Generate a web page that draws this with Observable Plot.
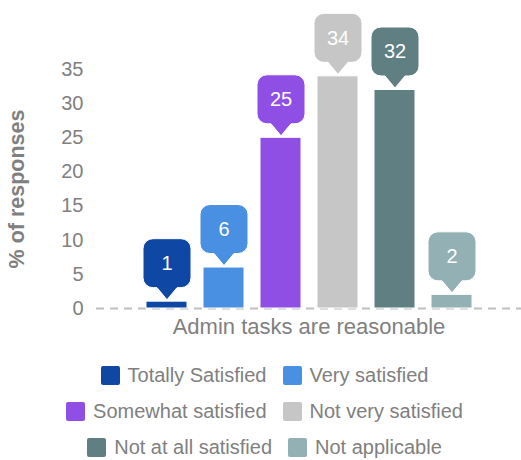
<!DOCTYPE html>
<html>
<head>
<meta charset="utf-8">
<script src="https://cdn.jsdelivr.net/npm/d3@7"></script>
<script src="https://cdn.jsdelivr.net/npm/@observablehq/plot@0.6"></script>
<style>
  html, body { margin: 0; padding: 0; background: #fff; }
  #chart { width: 521px; }
  .legend { font-family: "Liberation Sans", Arial, sans-serif; font-size: 20px; color: #808080; padding-left: 8px; margin-top: 12px; }
  .row { display: flex; justify-content: center; align-items: center; height: 36px; }
  .item { display: flex; align-items: center; margin: 0 8px; }
  .sw { width: 19px; height: 19px; border-radius: 2px; margin-right: 8px; }
</style>
</head>
<body>
<div id="chart"></div>
<script>
const categories = ["Totally Satisfied", "Very satisfied", "Somewhat satisfied", "Not very satisfied", "Not at all satisfied", "Not applicable"];
const values = [1, 6, 25, 34, 32, 2];
const colors = ["#0F47A5", "#4A90E2", "#8F4FE5", "#C6C6C6", "#607F83", "#93B0B4"];
const group = "Admin tasks are reasonable";
const yTicks = [0, 5, 10, 15, 20, 25, 30, 35];
const yLabel = "% of responses";
const legendRows = [[0, 1], [2, 3], [4, 5]];

const data = categories.map((c, i) => ({group, category: c, value: values[i]}));

// speech-bubble callout whose tip sits at the dot position
const callout = {
  draw(ctx) {
    const W = 48, H = 49, R = 10, P = 12, B = 10;
    const t = -(P + H), b = -P, l = -W / 2, r = W / 2;
    ctx.moveTo(l + R, t);
    ctx.lineTo(r - R, t);
    ctx.arcTo(r, t, r, t + R, R);
    ctx.lineTo(r, b - R);
    ctx.arcTo(r, b, r - R, b, R);
    ctx.lineTo(B, b);
    ctx.lineTo(0, 0);
    ctx.lineTo(-B, b);
    ctx.lineTo(l + R, b);
    ctx.arcTo(l, b, l, b - R, R);
    ctx.lineTo(l, t + R);
    ctx.arcTo(l, t, l + R, t, R);
    ctx.closePath();
  }
};

const chart = Plot.plot({
  width: 521,
  height: 345,
  marginLeft: 96,
  marginRight: 0,
  marginTop: 69,
  marginBottom: 37,
  style: {fontFamily: "'Liberation Sans', Arial, sans-serif", fontSize: "20px", color: "#808080", background: "white"},
  fx: {domain: [group], padding: 0, label: null},
  x: {domain: categories, paddingInner: 0.288, paddingOuter: 0.833, axis: null},
  y: {domain: [0, 35], axis: null},
  color: {domain: categories, range: colors},
  marks: [
    Plot.axisY({ticks: yTicks, tickSize: 0, tickPadding: 13, fontSize: 20, color: "#808080", label: null}),
    Plot.axisFx({anchor: "bottom", tickSize: 0, tickPadding: 10, fontSize: 22, color: "#808080", label: null}),
    Plot.ruleY([0], {stroke: "#BFBFBF", strokeWidth: 2, strokeDasharray: "8,6"}),
    Plot.barY(data, {fx: "group", x: "category", y: "value", fill: "category", stroke: "white", strokeWidth: 1}),
    Plot.dot(data, {fx: "group", x: "category", y: "value", fill: "category", symbol: callout, r: 10, stroke: "white", strokeWidth: 1, dy: -2}),
    Plot.text(data, {fx: "group", x: "category", y: "value", text: "value", dy: -38, fill: "white", fontSize: 20}),
    Plot.text([yLabel], {frameAnchor: "left", textAnchor: "middle", dx: -79, rotate: -90, fontSize: 21.5, fontWeight: "bold", fill: "#808080"})
  ]
});
document.getElementById("chart").appendChild(chart);

const legend = document.createElement("div");
legend.className = "legend";
legendRows.forEach(row => {
  const rd = document.createElement("div");
  rd.className = "row";
  row.forEach(i => {
    const it = document.createElement("div");
    it.className = "item";
    const sw = document.createElement("div");
    sw.className = "sw";
    sw.style.background = colors[i];
    const tx = document.createElement("span");
    tx.textContent = categories[i];
    it.appendChild(sw);
    it.appendChild(tx);
    rd.appendChild(it);
  });
  legend.appendChild(rd);
});
document.getElementById("chart").appendChild(legend);
</script>
</body>
</html>
